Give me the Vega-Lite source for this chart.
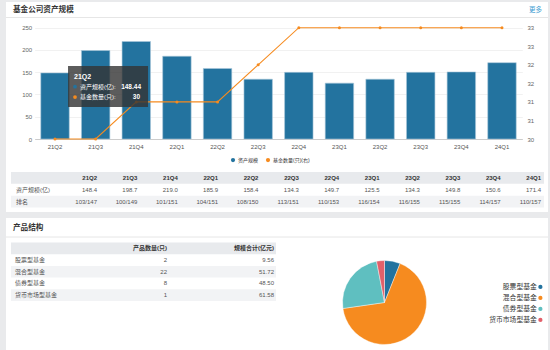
{
  "$schema": "https://vega.github.io/schema/vega-lite/v6.json",
  "autosize": {"type": "pad"},
  "padding": {"left": 5, "top": 2, "right": 3, "bottom": 0},
  "background": "#e9eaec",
  "spacing": 6,
  "resolve": {"scale": {"color": "independent"}, "legend": {"color": "independent"}},
  "config": {
    "view": {"stroke": null, "fill": "white"},
    "font": "Liberation Sans, Noto Sans CJK SC, sans-serif"
  },
  "datasets": {
    "quarterly": [
      {"quarter": "21Q2", "aum": 148.44, "funds": 30, "rank": "103/147"},
      {"quarter": "21Q3", "aum": 198.7, "funds": 30, "rank": "100/149"},
      {"quarter": "21Q4", "aum": 219.0, "funds": 31, "rank": "101/151"},
      {"quarter": "22Q1", "aum": 185.9, "funds": 31, "rank": "104/151"},
      {"quarter": "22Q2", "aum": 158.4, "funds": 31, "rank": "108/150"},
      {"quarter": "22Q3", "aum": 134.3, "funds": 32, "rank": "113/151"},
      {"quarter": "22Q4", "aum": 149.7, "funds": 33, "rank": "110/153"},
      {"quarter": "23Q1", "aum": 125.5, "funds": 33, "rank": "116/154"},
      {"quarter": "23Q2", "aum": 134.3, "funds": 33, "rank": "116/155"},
      {"quarter": "23Q3", "aum": 149.8, "funds": 33, "rank": "115/155"},
      {"quarter": "23Q4", "aum": 150.6, "funds": 33, "rank": "114/157"},
      {"quarter": "24Q1", "aum": 171.4, "funds": 33, "rank": "110/157"}
    ],
    "products": [
      {"type": "股票型基金", "count": 2, "total": 9.56},
      {"type": "混合型基金", "count": 22, "total": 51.72},
      {"type": "债券型基金", "count": 8, "total": 48.50},
      {"type": "货币市场型基金", "count": 1, "total": 61.58}
    ]
  },
  "vconcat": [
    {
      "width": 542,
      "height": 210,
      "resolve": {"scale": {"x": "independent", "y": "independent"}},
      "layer": [
        {
          "data": {"values": [{"part": "标题栏"}]},
          "mark": {"type": "rule", "color": "#e6e6e6", "strokeWidth": 1},
          "encoding": {
            "y": {"field": "part", "type": "nominal", "scale": {"type": "point", "domain": ["标题栏"], "range": [15.5, 15.5], "padding": 0}, "axis": null}
          }
        },
        {
          "data": {"values": [{"card": "基金公司资产规模"}]},
          "mark": {"type": "text", "align": "left", "baseline": "middle", "fontSize": 7.6, "fontWeight": "bold", "color": "#333333"},
          "encoding": {
            "x": {"field": "card", "type": "nominal", "scale": {"type": "point", "domain": ["基金公司资产规模"], "range": [7, 7], "padding": 0}, "axis": null},
            "y": {"field": "card", "type": "nominal", "scale": {"type": "point", "domain": ["基金公司资产规模"], "range": [7.5, 7.5], "padding": 0}, "axis": null},
            "text": {"field": "card"}
          }
        },
        {
          "data": {"values": [{"link": "更多"}]},
          "mark": {"type": "text", "align": "right", "baseline": "middle", "fontSize": 6.5, "color": "#3d9cd2"},
          "encoding": {
            "x": {"field": "link", "type": "nominal", "scale": {"type": "point", "domain": ["更多"], "range": [536, 536], "padding": 0}, "axis": null},
            "y": {"field": "link", "type": "nominal", "scale": {"type": "point", "domain": ["更多"], "range": [7.5, 7.5], "padding": 0}, "axis": null},
            "text": {"field": "link"}
          }
        },
        {
          "data": {"values": [{"row": "季度"}]},
          "mark": {"type": "rect", "color": "#e8eaed"},
          "encoding": {
            "x": {"datum": "表格", "type": "nominal", "scale": {"type": "band", "domain": ["表格"], "range": [5, 538], "paddingInner": 0, "paddingOuter": 0}, "axis": null},
            "y": {"field": "row", "type": "nominal", "scale": {"type": "band", "domain": ["季度", "资产规模(亿)", "排名"], "range": [170, 205.5], "paddingInner": 0, "paddingOuter": 0}, "axis": null}
          }
        },
        {
          "data": {"values": [{"row": "排名"}]},
          "mark": {"type": "rect", "color": "#f2f3f5"},
          "encoding": {
            "x": {"datum": "表格", "type": "nominal", "scale": {"type": "band", "domain": ["表格"], "range": [5, 538], "paddingInner": 0, "paddingOuter": 0}, "axis": null},
            "y": {"field": "row", "type": "nominal", "scale": {"type": "band", "domain": ["季度", "资产规模(亿)", "排名"], "range": [170, 205.5], "paddingInner": 0, "paddingOuter": 0}, "axis": null}
          }
        },
        {
          "data": {"name": "quarterly"},
          "mark": {"type": "bar", "stroke": "#a9c7da", "strokeWidth": 0.6},
          "encoding": {
            "x": {"field": "quarter", "type": "nominal", "sort": null,
              "scale": {"type": "band", "domain": ["21Q2","21Q3","21Q4","22Q1","22Q2","22Q3","22Q4","23Q1","23Q2","23Q3","23Q4","24Q1"], "range": [28.7, 516.3], "paddingInner": 0.3, "paddingOuter": 0.15},
              "axis": {"orient": "bottom", "offset": -73, "title": null, "labelAngle": 0, "labelFontSize": 6, "labelColor": "#555555", "ticks": false, "labelPadding": 4, "domainColor": "#cccccc", "grid": false}},
            "y": {"field": "aum", "type": "quantitative",
              "scale": {"domain": [0, 250], "range": [137, 25.7], "nice": false},
              "axis": {"orient": "left", "offset": -28.7, "title": null, "values": [0, 50, 100, 150, 200, 250], "labelFontSize": 6, "labelColor": "#666666", "ticks": false, "labelPadding": 3, "domain": false, "grid": true, "gridColor": "#f1f1f1"}},
            "color": {"datum": "资产规模", "type": "nominal",
              "scale": {"domain": ["资产规模", "基金数量(只)(右)"], "range": ["#23739f", "#f68b1f"]},
              "legend": {"orient": "none", "legendX": 224.5, "legendY": 155.3, "direction": "horizontal", "title": null, "symbolType": "circle", "symbolSize": 18, "symbolStrokeWidth": 0, "labelFontSize": 5, "labelColor": "#333333", "labelOffset": 2.5, "columnPadding": 7, "padding": 0}}
          }
        },
        {
          "data": {"name": "quarterly"},
          "mark": {"type": "line", "strokeWidth": 1.1, "point": {"filled": true, "size": 9}},
          "encoding": {
            "x": {"field": "quarter", "type": "nominal", "sort": null,
              "scale": {"type": "band", "domain": ["21Q2","21Q3","21Q4","22Q1","22Q2","22Q3","22Q4","23Q1","23Q2","23Q3","23Q4","24Q1"], "range": [28.7, 516.3], "paddingInner": 0.3, "paddingOuter": 0.15},
              "axis": null},
            "y": {"field": "funds", "type": "quantitative",
              "scale": {"domain": [30, 33], "range": [137, 25.7], "nice": false, "zero": false},
              "axis": {"orient": "right", "offset": -25.7, "title": null, "values": [30, 30.5, 31, 31.5, 32, 32.5, 33], "format": ".0f", "labelFontSize": 6, "labelColor": "#666666", "ticks": false, "labelPadding": 4.7, "domain": false, "grid": false}},
            "color": {"datum": "基金数量(只)(右)", "type": "nominal"}
          }
        },
        {
          "data": {"name": "quarterly"},
          "mark": {"type": "text", "align": "right", "baseline": "middle", "fontSize": 6, "fontWeight": "bold", "color": "#333333"},
          "encoding": {
            "x": {"field": "quarter", "type": "nominal", "sort": null, "scale": {"type": "point", "domain": ["21Q2","21Q3","21Q4","22Q1","22Q2","22Q3","22Q4","23Q1","23Q2","23Q3","23Q4","24Q1"], "range": [91, 535], "padding": 0}, "axis": null},
            "y": {"datum": "季度", "type": "nominal", "scale": {"type": "band", "domain": ["季度", "资产规模(亿)", "排名"], "range": [170, 205.5], "paddingInner": 0, "paddingOuter": 0}, "axis": null},
            "text": {"field": "quarter"}
          }
        },
        {
          "data": {"name": "quarterly"},
          "mark": {"type": "text", "align": "right", "baseline": "middle", "fontSize": 6, "color": "#555555"},
          "encoding": {
            "x": {"field": "quarter", "type": "nominal", "sort": null, "scale": {"type": "point", "domain": ["21Q2","21Q3","21Q4","22Q1","22Q2","22Q3","22Q4","23Q1","23Q2","23Q3","23Q4","24Q1"], "range": [91, 535], "padding": 0}, "axis": null},
            "y": {"datum": "资产规模(亿)", "type": "nominal", "scale": {"type": "band", "domain": ["季度", "资产规模(亿)", "排名"], "range": [170, 205.5], "paddingInner": 0, "paddingOuter": 0}, "axis": null},
            "text": {"field": "aum", "type": "quantitative", "format": ".1f"}
          }
        },
        {
          "data": {"name": "quarterly"},
          "mark": {"type": "text", "align": "right", "baseline": "middle", "fontSize": 6, "color": "#555555"},
          "encoding": {
            "x": {"field": "quarter", "type": "nominal", "sort": null, "scale": {"type": "point", "domain": ["21Q2","21Q3","21Q4","22Q1","22Q2","22Q3","22Q4","23Q1","23Q2","23Q3","23Q4","24Q1"], "range": [91, 535], "padding": 0}, "axis": null},
            "y": {"datum": "排名", "type": "nominal", "scale": {"type": "band", "domain": ["季度", "资产规模(亿)", "排名"], "range": [170, 205.5], "paddingInner": 0, "paddingOuter": 0}, "axis": null},
            "text": {"field": "rank"}
          }
        },
        {
          "data": {"values": [{"row": "资产规模(亿)"}, {"row": "排名"}]},
          "mark": {"type": "text", "align": "left", "baseline": "middle", "fontSize": 6, "color": "#555555"},
          "encoding": {
            "x": {"datum": "指标", "type": "nominal", "scale": {"type": "point", "domain": ["指标"], "range": [10, 10], "padding": 0}, "axis": null},
            "y": {"field": "row", "type": "nominal", "scale": {"type": "band", "domain": ["季度", "资产规模(亿)", "排名"], "range": [170, 205.5], "paddingInner": 0, "paddingOuter": 0}, "axis": null},
            "text": {"field": "row"}
          }
        },
        {
          "data": {"name": "quarterly"},
          "transform": [{"filter": "datum.quarter === '21Q2'"}],
          "encoding": {
            "x": {"field": "quarter", "type": "nominal", "sort": null,
              "scale": {"type": "band", "domain": ["21Q2","21Q3","21Q4","22Q1","22Q2","22Q3","22Q4","23Q1","23Q2","23Q3","23Q4","24Q1"], "range": [28.7, 516.3], "paddingInner": 0.3, "paddingOuter": 0.15},
              "axis": null},
            "y": {"field": "aum", "type": "quantitative", "scale": {"domain": [0, 250], "range": [137, 25.7], "nice": false}, "axis": null}
          },
          "layer": [
            {"mark": {"type": "point", "shape": "M-1,-0.5125H1V0.5125H-1Z", "size": 6400, "filled": true, "color": "#333333", "opacity": 0.8, "xOffset": 53, "yOffset": 13.6, "strokeWidth": 0}},
            {"mark": {"type": "text", "align": "left", "baseline": "middle", "fontSize": 7, "fontWeight": "bold", "color": "white", "dx": 19, "dy": 3.8}, "encoding": {"text": {"field": "quarter"}}},
            {"mark": {"type": "point", "shape": "circle", "size": 14, "filled": true, "color": "#23739f", "opacity": 1, "xOffset": 20, "yOffset": 13.8}},
            {"mark": {"type": "point", "shape": "circle", "size": 14, "filled": true, "color": "#f68b1f", "opacity": 1, "xOffset": 20, "yOffset": 24.1}},
            {"mark": {"type": "text", "align": "left", "baseline": "middle", "fontSize": 6, "color": "white", "dx": 25, "dy": 13.8, "text": "资产规模(亿):"}},
            {"mark": {"type": "text", "align": "left", "baseline": "middle", "fontSize": 6, "color": "white", "dx": 25, "dy": 24.1, "text": "基金数量(只):"}},
            {"mark": {"type": "text", "align": "right", "baseline": "middle", "fontSize": 6.5, "fontWeight": "bold", "color": "white", "dx": 86, "dy": 13.8}, "encoding": {"text": {"field": "aum", "type": "quantitative", "format": ".2f"}}},
            {"mark": {"type": "text", "align": "right", "baseline": "middle", "fontSize": 6.5, "fontWeight": "bold", "color": "white", "dx": 85, "dy": 24.1}, "encoding": {"text": {"field": "funds", "type": "quantitative"}}}
          ]
        }
      ]
    },
    {
      "width": 542,
      "height": 132,
      "resolve": {"scale": {"x": "independent", "y": "independent"}},
      "layer": [
        {
          "data": {"values": [{"part": "标题栏"}]},
          "mark": {"type": "rule", "color": "#e6e6e6", "strokeWidth": 1},
          "encoding": {
            "y": {"field": "part", "type": "nominal", "scale": {"type": "point", "domain": ["标题栏"], "range": [19, 19], "padding": 0}, "axis": null}
          }
        },
        {
          "data": {"values": [{"card": "产品结构"}]},
          "mark": {"type": "text", "align": "left", "baseline": "middle", "fontSize": 7.6, "fontWeight": "bold", "color": "#333333"},
          "encoding": {
            "x": {"field": "card", "type": "nominal", "scale": {"type": "point", "domain": ["产品结构"], "range": [7, 7], "padding": 0}, "axis": null},
            "y": {"field": "card", "type": "nominal", "scale": {"type": "point", "domain": ["产品结构"], "range": [10, 10], "padding": 0}, "axis": null},
            "text": {"field": "card"}
          }
        },
        {
          "data": {"values": [{"row": "类型"}]},
          "mark": {"type": "rect", "color": "#e8eaed"},
          "encoding": {
            "x": {"datum": "表格", "type": "nominal", "scale": {"type": "band", "domain": ["表格"], "range": [5, 270], "paddingInner": 0, "paddingOuter": 0}, "axis": null},
            "y": {"field": "row", "type": "nominal", "scale": {"type": "band", "domain": ["类型", "股票型基金", "混合型基金", "债券型基金", "货币市场型基金"], "range": [24.5, 83], "paddingInner": 0, "paddingOuter": 0}, "axis": null}
          }
        },
        {
          "data": {"name": "products"},
          "transform": [{"window": [{"op": "row_number", "as": "idx"}]}, {"filter": "datum.idx % 2 === 0"}],
          "mark": {"type": "rect", "color": "#f2f3f5"},
          "encoding": {
            "x": {"datum": "表格", "type": "nominal", "scale": {"type": "band", "domain": ["表格"], "range": [5, 270], "paddingInner": 0, "paddingOuter": 0}, "axis": null},
            "y": {"field": "type", "type": "nominal", "scale": {"type": "band", "domain": ["类型", "股票型基金", "混合型基金", "债券型基金", "货币市场型基金"], "range": [24.5, 83], "paddingInner": 0, "paddingOuter": 0}, "axis": null}
          }
        },
        {
          "data": {"values": [{"col": "产品数量(只)"}, {"col": "规模合计(亿元)"}]},
          "mark": {"type": "text", "align": "right", "baseline": "middle", "fontSize": 6, "fontWeight": "bold", "color": "#333333"},
          "encoding": {
            "x": {"field": "col", "type": "nominal", "scale": {"type": "point", "domain": ["产品数量(只)", "规模合计(亿元)"], "range": [161, 268], "padding": 0}, "axis": null},
            "y": {"datum": "类型", "type": "nominal", "scale": {"type": "band", "domain": ["类型", "股票型基金", "混合型基金", "债券型基金", "货币市场型基金"], "range": [24.5, 83], "paddingInner": 0, "paddingOuter": 0}, "axis": null},
            "text": {"field": "col"}
          }
        },
        {
          "data": {"name": "products"},
          "mark": {"type": "text", "align": "left", "baseline": "middle", "fontSize": 6, "color": "#555555"},
          "encoding": {
            "x": {"datum": "类型", "type": "nominal", "scale": {"type": "point", "domain": ["类型"], "range": [9, 9], "padding": 0}, "axis": null},
            "y": {"field": "type", "type": "nominal", "scale": {"type": "band", "domain": ["类型", "股票型基金", "混合型基金", "债券型基金", "货币市场型基金"], "range": [24.5, 83], "paddingInner": 0, "paddingOuter": 0}, "axis": null},
            "text": {"field": "type"}
          }
        },
        {
          "data": {"name": "products"},
          "mark": {"type": "text", "align": "right", "baseline": "middle", "fontSize": 6, "color": "#555555"},
          "encoding": {
            "x": {"datum": "产品数量(只)", "type": "nominal", "scale": {"type": "point", "domain": ["产品数量(只)", "规模合计(亿元)"], "range": [161, 268], "padding": 0}, "axis": null},
            "y": {"field": "type", "type": "nominal", "scale": {"type": "band", "domain": ["类型", "股票型基金", "混合型基金", "债券型基金", "货币市场型基金"], "range": [24.5, 83], "paddingInner": 0, "paddingOuter": 0}, "axis": null},
            "text": {"field": "count", "type": "quantitative"}
          }
        },
        {
          "data": {"name": "products"},
          "mark": {"type": "text", "align": "right", "baseline": "middle", "fontSize": 6, "color": "#555555"},
          "encoding": {
            "x": {"datum": "规模合计(亿元)", "type": "nominal", "scale": {"type": "point", "domain": ["产品数量(只)", "规模合计(亿元)"], "range": [161, 268], "padding": 0}, "axis": null},
            "y": {"field": "type", "type": "nominal", "scale": {"type": "band", "domain": ["类型", "股票型基金", "混合型基金", "债券型基金", "货币市场型基金"], "range": [24.5, 83], "paddingInner": 0, "paddingOuter": 0}, "axis": null},
            "text": {"field": "total", "type": "quantitative", "format": ".2f"}
          }
        },
        {
          "data": {"name": "products"},
          "transform": [{"window": [{"op": "row_number", "as": "idx"}]}],
          "mark": {"type": "arc", "outerRadius": 42, "stroke": "white", "strokeWidth": 0.4},
          "encoding": {
            "x": {"datum": "饼图", "type": "nominal", "scale": {"type": "point", "domain": ["饼图"], "range": [378.5, 378.5], "padding": 0}, "axis": null},
            "y": {"datum": "饼图", "type": "nominal", "scale": {"type": "point", "domain": ["饼图"], "range": [84.5, 84.5], "padding": 0}, "axis": null},
            "theta": {"field": "count", "type": "quantitative", "stack": true},
            "order": {"field": "idx", "type": "quantitative"},
            "color": {"field": "type", "type": "nominal",
              "scale": {"domain": ["股票型基金", "混合型基金", "债券型基金", "货币市场型基金"], "range": ["#23739f", "#f68b1f", "#5fbfc0", "#e2606a"]},
              "legend": {"orient": "none", "legendX": 531, "legendY": 65.5, "direction": "vertical", "title": null, "symbolType": "circle", "symbolSize": 18, "symbolStrokeWidth": 0, "labelFontSize": 6.8, "labelColor": "#333333", "labelAlign": "right", "labelOffset": -7, "rowPadding": 3, "padding": 0}}
          }
        }
      ]
    }
  ]
}
